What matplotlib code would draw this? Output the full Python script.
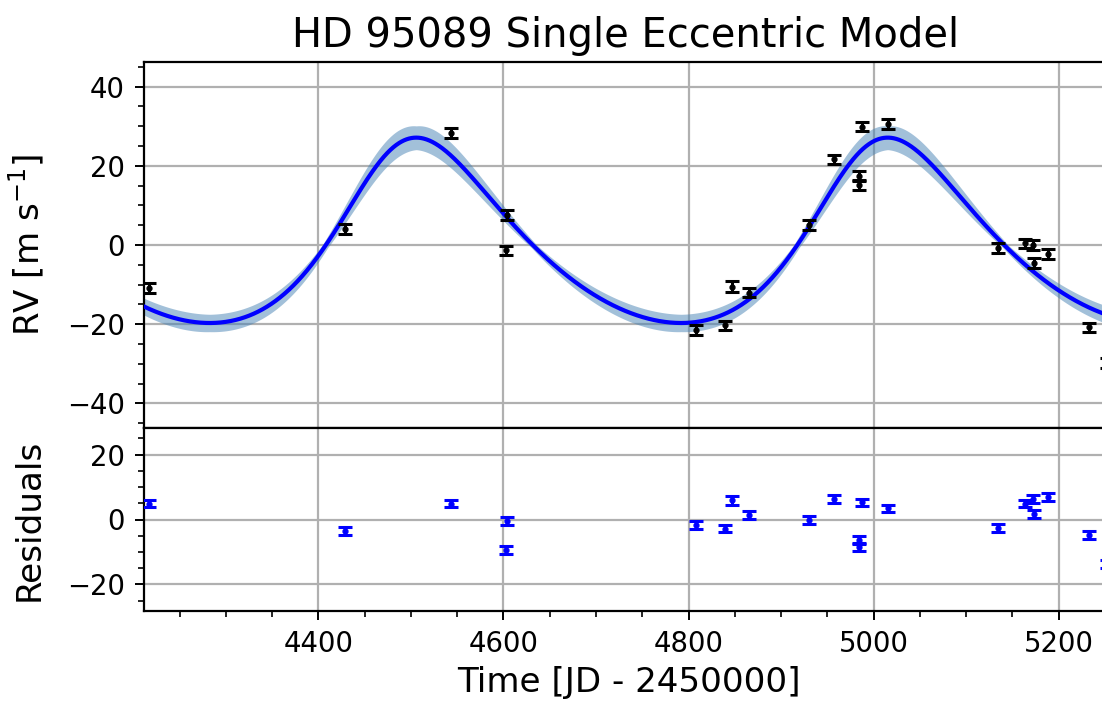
import numpy as np
import matplotlib
matplotlib.use("Agg")
import matplotlib.pyplot as plt
from matplotlib.ticker import MultipleLocator

# Observation epochs [JD - 2450000], radial velocities and residuals [m/s]
time_obs = [4217.0, 4429.0, 4543.5, 4603.7, 4603.0, 4808.0, 4839.0, 4847.0,
            4865.0, 4930.0, 4956.8, 4987.5, 4984.0, 4984.6, 5015.6, 5135.0,
            5164.0, 5172.0, 5173.7, 5188.0, 5232.4, 5252.0]
rv_obs = [-10.9, 4.0, 28.3, 7.6, -1.3, -21.5, -20.3, -10.5,
          -12.0, 5.0, 21.6, 29.9, 17.4, 15.2, 30.6, -0.8,
          0.4, 0.0, -4.6, -2.3, -20.8, -29.8]
rv_err = [1.2, 1.2, 1.2, 1.2, 1.1, 1.2, 1.2, 1.3,
          1.2, 1.2, 1.2, 1.1, 1.2, 1.2, 1.2, 1.2,
          1.2, 1.2, 1.2, 1.2, 1.2, 1.2]
residuals = [4.9, -3.6, 4.9, -0.5, -9.4, -1.7, -2.8, 5.9,
             1.5, -0.2, 6.3, 5.3, -6.2, -8.5, 3.4, -2.6,
             4.9, 6.2, 1.7, 6.9, -4.8, -13.8]

# Single eccentric Keplerian orbit
P_days = 509.5
K_amp = 23.4
ecc = 0.20
omega = -0.50
t_peri = 4478.9
gamma = -0.4

# Spread of the orbit solution used for the shaded band
band_K = [21.1, 25.7]
band_gamma = [-0.7, -0.1]
band_tshift = [-3.0, 3.0]


def kepler_rv(t, P, K, e, w, tp, g):
    M = 2 * np.pi * (t - tp) / P
    E = M.copy()
    for _ in range(60):
        E = E - (E - e * np.sin(E) - M) / (1 - e * np.cos(E))
    nu = 2 * np.arctan2(np.sqrt(1 + e) * np.sin(E / 2),
                        np.sqrt(1 - e) * np.cos(E / 2))
    return g + K * (np.cos(nu + w) + e * np.cos(w))


x_min, x_max = 4211.0, 5260.0
tt = np.linspace(x_min - 5, x_max + 5, 2000)
model = kepler_rv(tt, P_days, K_amp, ecc, omega, t_peri, gamma)
curves = [kepler_rv(tt, P_days, k, ecc, omega, t_peri + s, g)
          for k in band_K for g in band_gamma for s in band_tshift]
band_lo = np.min(curves, axis=0)
band_hi = np.max(curves, axis=0)

W, H = 1102, 707
fig = plt.figure(figsize=(W / 100, H / 100), dpi=100)
left = 143.5
right = left + (x_max - x_min) * 0.9253
ax1 = fig.add_axes([left / W, (H - 428) / H, (right - left) / W, (428 - 62) / H])
ax2 = fig.add_axes([left / W, (H - 611) / H, (right - left) / W, (611 - 428) / H],
                   sharex=ax1)

tick_fs = 19.8
label_fs = 24.6

# Upper panel: data with the orbit model
ax1.fill_between(tt, band_lo, band_hi, color="steelblue", alpha=0.5,
                 linewidth=0, zorder=2)
ax1.plot(tt, model, color="blue", lw=3.0, zorder=3)
ax1.errorbar(time_obs, rv_obs, yerr=rv_err, fmt="o", color="black",
             ms=3.5, elinewidth=2.2, capsize=5, capthick=2.2, zorder=4)
ax1.set_ylim(-46.2, 46.2)
ax1.yaxis.set_major_locator(MultipleLocator(20))
ax1.yaxis.set_minor_locator(MultipleLocator(5))
ax1.set_ylabel(r"RV [m s$^{-1}$]", fontsize=label_fs)
ax1.set_title("HD 95089 Single Eccentric Model", fontsize=28.8, pad=11,
              x=(626.0 - left) / (right - left))
ax1.tick_params(axis="x", which="both", length=0, labelbottom=False)

# Lower panel: residuals
ax2.errorbar(time_obs, residuals, yerr=rv_err, fmt="o", color="blue",
             ms=3.5, elinewidth=2.2, capsize=5, capthick=2.2, zorder=4)
ax2.set_ylim(-28.2, 28.2)
ax2.yaxis.set_major_locator(MultipleLocator(20))
ax2.yaxis.set_minor_locator(MultipleLocator(5))
ax2.set_ylabel("Residuals", fontsize=label_fs)
ax2.set_xlabel("Time [JD - 2450000]", fontsize=label_fs, labelpad=6)

ax2.set_xlim(x_min, x_max)
ax2.xaxis.set_major_locator(MultipleLocator(200))
ax2.xaxis.set_minor_locator(MultipleLocator(50))

for ax in (ax1, ax2):
    ax.grid(True, which="major", color="#b0b0b0", lw=1.6, zorder=0)
    ax.set_axisbelow(True)
    for sp in ax.spines.values():
        sp.set_linewidth(1.6)
    ax.tick_params(which="major", labelsize=tick_fs, length=6.5, width=1.4, pad=7)
    ax.tick_params(which="minor", length=4.3, width=1.2)

label_x = -98.0 / (right - left)
ax1.yaxis.set_label_coords(label_x, 0.5)
ax2.yaxis.set_label_coords(label_x, 0.5)

fig.savefig("out.png", dpi=100)
